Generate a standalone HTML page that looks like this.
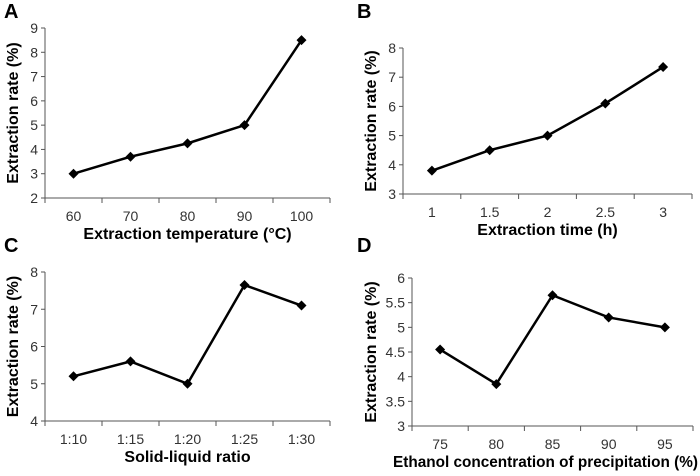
<!DOCTYPE html>
<html><head><meta charset="utf-8"><style>
body{margin:0;background:#fff}
svg{display:block;font-family:"Liberation Sans",Arial,sans-serif}
</style></head><body>
<svg id="c" width="700" height="476" viewBox="0 0 700 476"></svg>
<script>
const catsA=["60","70","80","90","100"];
const valsA=[3,3.7,4.25,5,8.5];
const ticksA=[2,3,4,5,6,7,8,9];
const catsB=["1","1.5","2","2.5","3"];
const valsB=[3.8,4.5,5,6.1,7.35];
const ticksB=[3,4,5,6,7,8];
const catsC=["1:10","1:15","1:20","1:25","1:30"];
const valsC=[5.2,5.6,5.0,7.65,7.1];
const ticksC=[4,5,6,7,8];
const catsD=["75","80","85","90","95"];
const valsD=[4.55,3.85,5.65,5.2,5.0];
const ticksD=[3,3.5,4,4.5,5,5.5,6];
const NS="http://www.w3.org/2000/svg";
const svg=document.getElementById('c');
function mk(t,a,p){const e=document.createElementNS(NS,t);for(const k in a)e.setAttribute(k,a[k]);(p||svg).appendChild(e);return e;}
function panel(id,letter,cats,vals,ticks,L,R,T,B,xtitle,lx,ly,ytx,xtx,xta,xtl){
  const g=mk('g',{});
  
  
  const lo=ticks[0],hi=ticks[ticks.length-1];
  const y=v=>B-(v-lo)/(hi-lo)*(B-T);
  const w=(R-L)/cats.length;
  const x=i=>L+w*(i+0.5);
  const lt=mk('text',{x:lx,y:ly,'font-size':20,'font-weight':'bold',fill:'#000'},g);lt.textContent=letter;
  
  
  mk('line',{x1:L,y1:T,x2:L,y2:B,stroke:'#555','stroke-width':1},g);
  mk('line',{x1:L,y1:B,x2:R,y2:B,stroke:'#555','stroke-width':1},g);
  ticks.forEach(t=>{mk('line',{x1:L-4,y1:y(t),x2:L,y2:y(t),stroke:'#555'},g);
    const tx=mk('text',{x:L-7,y:y(t)+5,'font-size':14,'text-anchor':'end',fill:'#333'},g);tx.textContent=t;
    
    });
  for(let i=0;i<=cats.length;i++)mk('line',{x1:L+w*i,y1:B,x2:L+w*i,y2:B+5,stroke:'#555'},g);
  cats.forEach((c,i)=>{const tx=mk('text',{x:x(i),y:B+23,'font-size':14,'text-anchor':'middle',fill:'#333'},g);tx.textContent=c;
    
    });
  const xa={x:xtx!==undefined?xtx:(L+R)/2,y:B+41,'font-size':16,'font-weight':'bold','text-anchor':xta||'middle',fill:'#000'};
  if(xtl){xa.textLength=xtl;xa.lengthAdjust='spacingAndGlyphs';}
  const xt=mk('text',xa,g);xt.textContent=xtitle;
  
  
  const yc=(T+B)/2;
  const yt=mk('text',{x:ytx,y:yc,'font-size':16,'font-weight':'bold','text-anchor':'middle',fill:'#000',transform:`rotate(-90 ${ytx} ${yc})`},g);yt.textContent='Extraction rate (%)';
  
  
  const pl=mk('polyline',{points:vals.map((v,i)=>x(i)+','+y(v)).join(' '),fill:'none',stroke:'#000','stroke-width':2.5},g);
  
  
  vals.forEach((v,i)=>{const cx=x(i),cy=y(v);
    const m=mk('polygon',{points:`${cx},${cy-5} ${cx+5},${cy} ${cx},${cy+5} ${cx-5},${cy}`,fill:'#000'},g);
    
    });
}
panel('a','A',catsA,valsA,ticksA,45,330,28,198,'Extraction temperature (°C)',4,18,18);
panel('b','B',catsB,valsB,ticksB,403,692,48,194,'Extraction time (h)',357,18,376);
panel('c','C',catsC,valsC,ticksC,45,330,272,421,'Solid-liquid ratio',4,252,18);
panel('d','D',catsD,valsD,ticksD,412,693,278,426,'Ethanol concentration of precipitation (%)',357,252,376,393,'start',305);
</script>
</body></html>
